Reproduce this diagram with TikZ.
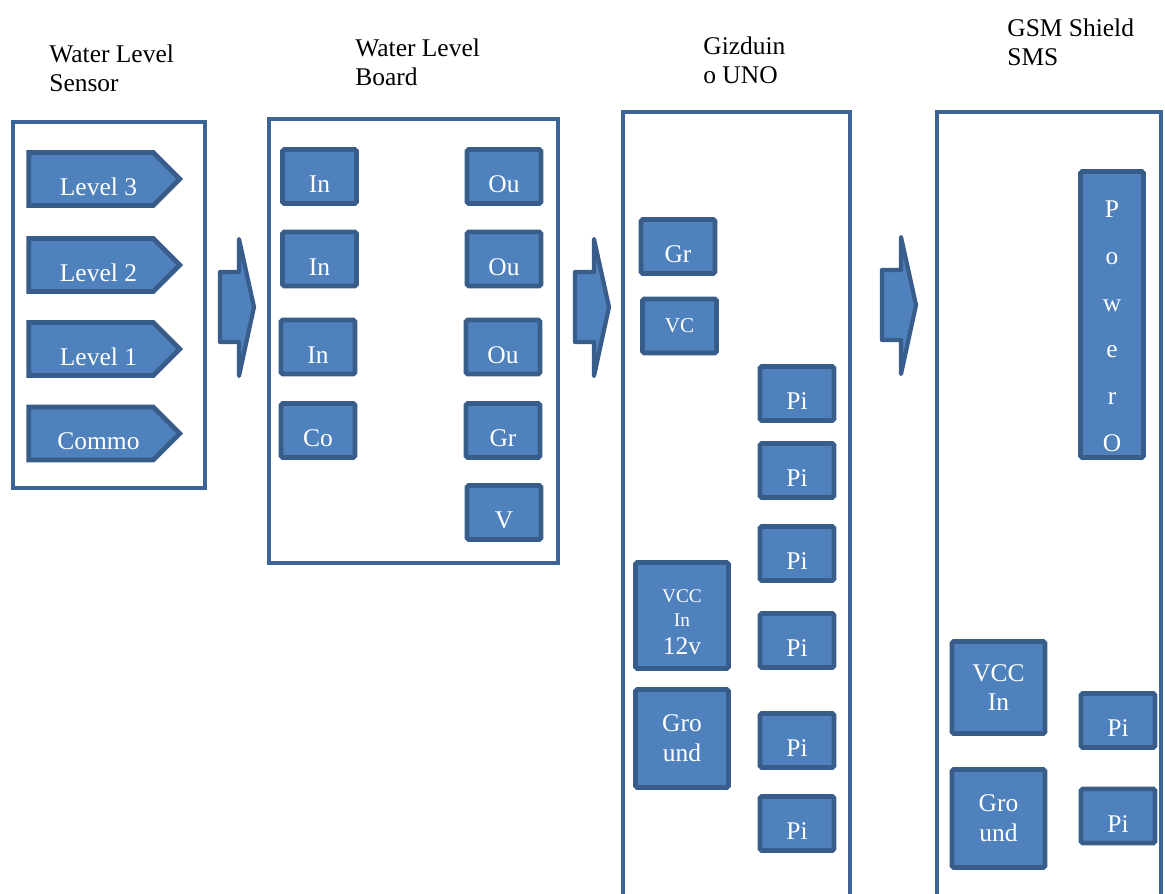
\documentclass[tikz,border=0pt]{standalone}
\usepackage{fontspec}
\setmainfont{Liberation Serif}
\usetikzlibrary{shapes.symbols}
\definecolor{pinfill}{HTML}{4F81BD}
\definecolor{pinline}{HTML}{385D8A}
\definecolor{panelline}{HTML}{3D6497}

\begin{document}
\begin{tikzpicture}[
    x=0.02cm,
    y=-0.02cm,
    every node/.style={font=\fontsize{14.5pt}{17pt}\selectfont},
    panel/.style={draw=panelline, line width=2.2pt},
    pinbox/.style={draw=pinline, fill=pinfill, line width=2.7pt, rounded corners=1pt, text=white, inner sep=0pt},
    pin/.style={pinbox, minimum width=1.48cm, minimum height=1.08cm, text height=18.5pt, text depth=0pt},
    widepin/.style={pinbox, align=center, minimum width=1.86cm},
    level/.style={signal, signal to=east, draw=pinline, fill=pinfill, line width=2.7pt, text=white, minimum width=3.02cm, minimum height=1.06cm, text height=18.5pt, text depth=0pt, inner sep=0pt},
    title/.style={anchor=north west, align=left, inner sep=0pt},
    blockarrow/.style={draw=pinline, fill=pinfill, line width=2.4pt, line join=round}
]
    \clip (0,0) rectangle (1165,893);

    % titles
    \node[title] (tsensor) at (49,44) {Water Level\\Sensor};
    \node[title] (tboard) at (355,38) {Water Level\\Board};
    \node[title] (tuno) at (703,36) {Gizduin\\o UNO};
    \node[title] (tgsm) at (1007,18) {GSM Shield\\SMS};

    % water level sensor
    \draw[panel] (13,122) rectangle (205,488);
    \node[level] (lvl3) at (91,179) {\hspace{8.5pt}Level 3};
    \node[level] (lvl2) at (91,265) {\hspace{8.5pt}Level 2};
    \node[level] (lvl1) at (91,349) {\hspace{8.5pt}Level 1};
    \node[level] (common) at (91,433.5) {\hspace{8.5pt}Commo};

    % water level board
    \draw[panel] (269,119) rectangle (558,563);
    \node[pin] (bin3) at (319.5,176.5) {In};
    \node[pin] (bin2) at (319.5,259) {In};
    \node[pin] (bin1) at (318,347) {In};
    \node[pin] (bcom) at (318,430.5) {Co};
    \node[pin] (bout3) at (504,176.5) {Ou};
    \node[pin] (bout2) at (504,259) {Ou};
    \node[pin] (bout1) at (503,347) {Ou};
    \node[pin] (bgnd) at (503,430.5) {Gr};
    \node[pin] (bvcc) at (504,512.5) {V};

    % gizduino uno
    \draw[panel] (623,112) rectangle (850,900);
    \node[pin] (ugnd) at (678,246.5) {Gr};
    \node[pinbox, minimum width=1.48cm, minimum height=1.08cm, font=\fontsize{12pt}{14pt}\selectfont] (uvcc) at (679.5,326) {VC};
    \foreach \py [count=\i] in {393.5,470.5,553.5,640.5,740.5,823.5}
        \node[pin] (upin\i) at (797,\py) {Pi};
    \node[widepin, minimum height=2.12cm] (uvin) at (682,615.5)
        {{\fontsize{11pt}{13pt}\selectfont\rule{0pt}{15pt}VCC}\\[-3pt]{\fontsize{11pt}{13pt}\selectfont In}\\[-1pt]12v};
    \node[widepin, minimum height=1.96cm] (ugnd2) at (682,738.5) {Gro\\und};

    % gsm shield
    \draw[panel] (937,112) rectangle (1161,900);
    \node[pinbox, align=center, minimum width=1.26cm, minimum height=5.72cm,
        font=\fontsize{14.5pt}{26.6pt}\selectfont] (power) at (1112,314.5) {\rule{0pt}{23pt}P\\o\\w\\e\\r\\O};
    \node[widepin, minimum height=1.84cm] (gvin) at (998.5,687.5) {VCC\\In};
    \node[pin] (gpin1) at (1118,720.5) {Pi};
    \node[widepin, minimum height=1.96cm] (ggnd) at (998.5,818.5) {Gro\\und};
    \node[pin] (gpin2) at (1118,816) {Pi};

    % block arrows between the panels
    \foreach \ax/\ay in {0/0,355/0,662/-2}
        \draw[blockarrow, shift={(\ax,\ay)}] (220,272) -- (239,272) -- (239,239) -- (254,307)
            -- (239,376) -- (239,342) -- (220,342) -- cycle;
\end{tikzpicture}
\end{document}
